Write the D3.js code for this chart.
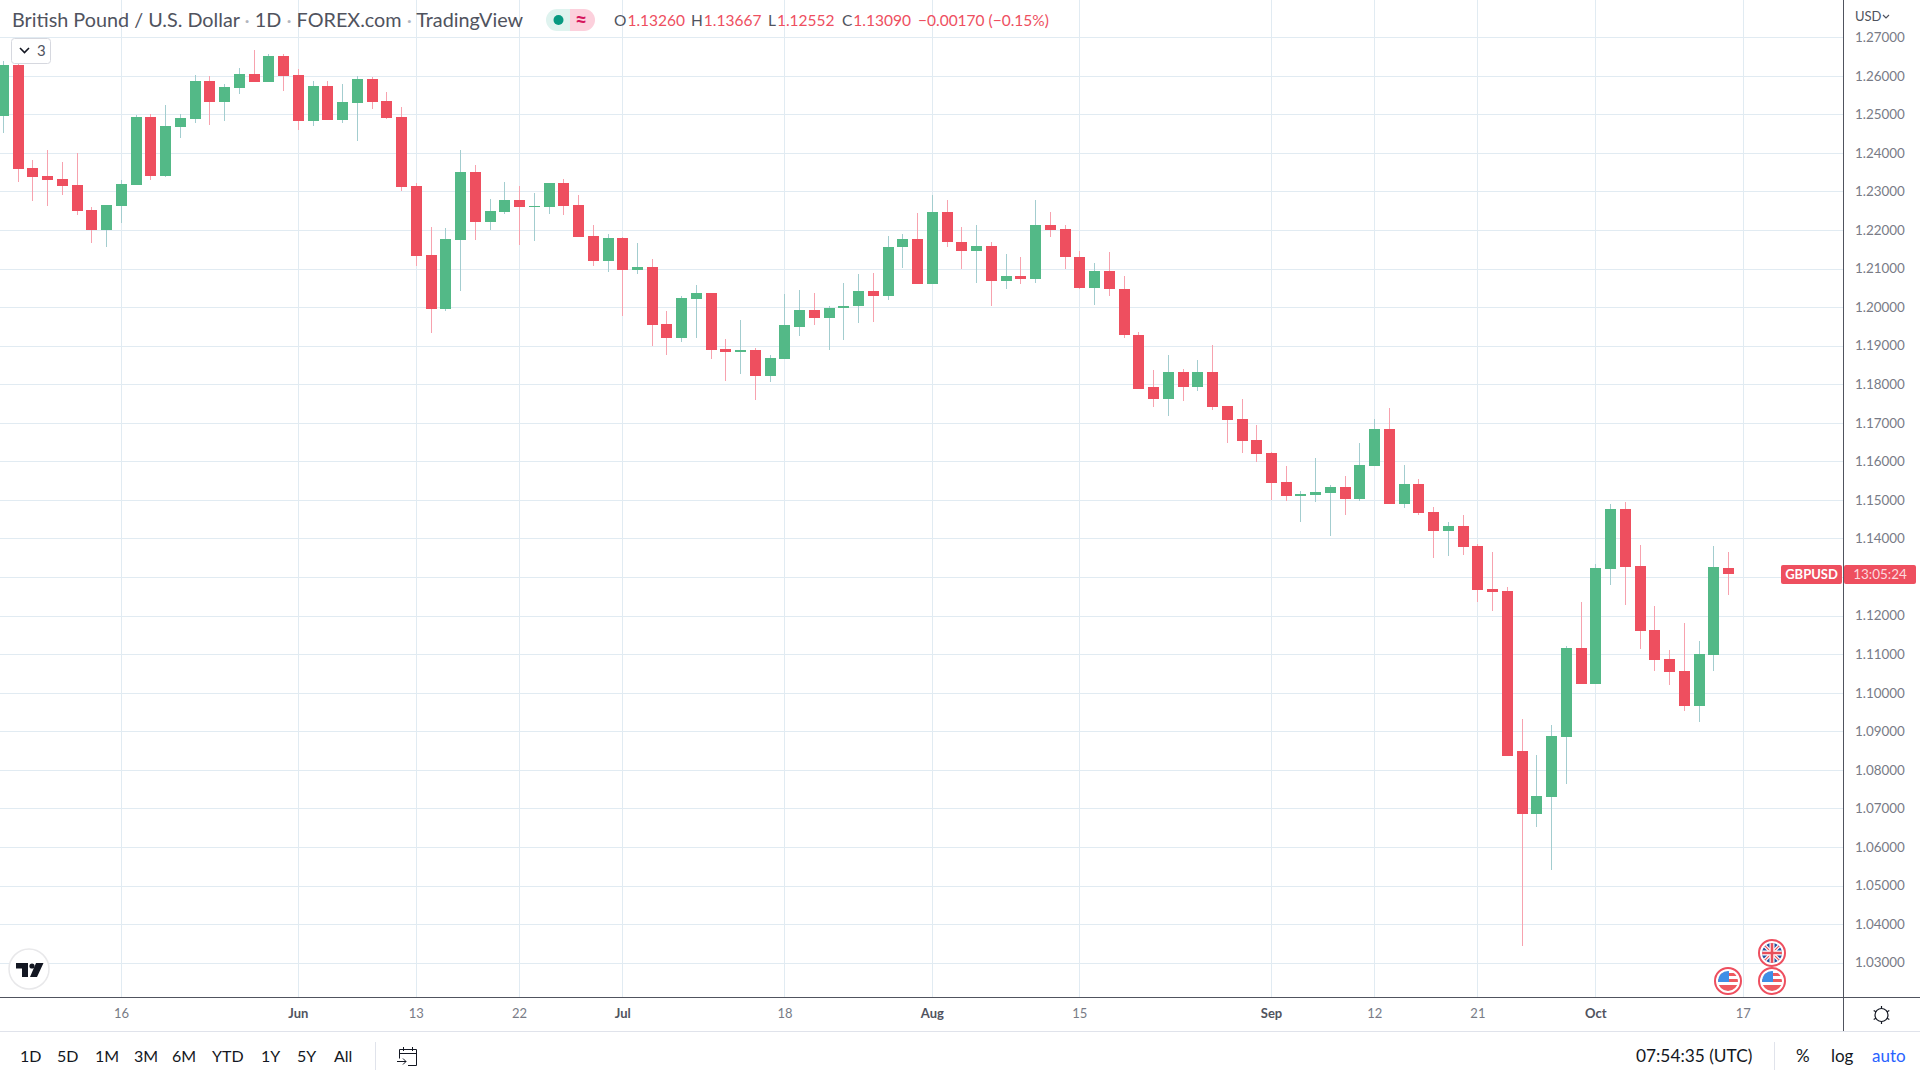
<!DOCTYPE html>
<html>
<head>
<meta charset="utf-8">
<script src="https://cdn.jsdelivr.net/npm/d3@7"></script>
<style>
  html, body { margin: 0; padding: 0; background: #fff; overflow: hidden; }
  svg { display: block; }
  text { font-family: Lato, sans-serif; }
</style>
</head>
<body>
<div id="chart"></div>
<script>
const opens = [
  1.2496,1.2628,1.2361,1.2341,1.2333,1.2317,1.2252,1.2201,1.2263,1.2317,
  1.2494,1.2341,1.2468,1.2488,1.2589,1.2532,1.2569,1.2605,1.2584,1.2652,
  1.2602,1.2483,1.2576,1.2486,1.2530,1.2592,1.2535,1.2494,1.2315,1.2136,
  1.1997,1.2175,1.2352,1.2222,1.2248,1.2279,1.2261,1.2261,1.2323,1.2266,
  1.2186,1.2121,1.2181,1.2098,1.2105,1.1958,1.1921,1.2022,1.2038,1.1893,
  1.1885,1.1890,1.1823,1.1867,1.1951,1.1995,1.1974,1.1998,1.2003,1.2044,
  1.2029,1.2156,1.2179,1.2060,1.2249,1.2171,1.2148,1.2161,1.2070,1.2083,
  1.2073,1.2215,1.2205,1.2132,1.2052,1.2096,1.2049,1.1930,1.1793,1.1764,
  1.1834,1.1795,1.1832,1.1744,1.1711,1.1656,1.1622,1.1547,1.1511,1.1514,
  1.1519,1.1534,1.1503,1.1589,1.1685,1.1490,1.1542,1.1470,1.1420,1.1433,
  1.1382,1.1270,1.1265,1.0850,1.0687,1.0731,1.0887,1.1117,1.1024,1.1322,
  1.1478,1.1330,1.1164,1.1089,1.1058,1.0967,1.1099,1.1326
];
const highs = [
  1.2639,1.2634,1.2382,1.2408,1.2377,1.2400,1.2260,1.2265,1.2330,1.2499,
  1.2501,1.2525,1.2501,1.2602,1.2600,1.2579,1.2621,1.2667,1.2659,1.2657,
  1.2618,1.2587,1.2589,1.2579,1.2600,1.2597,1.2558,1.2519,1.2323,1.2209,
  1.2206,1.2409,1.2370,1.2282,1.2326,1.2315,1.2297,1.2323,1.2333,1.2292,
  1.2214,1.2191,1.2183,1.2168,1.2126,1.1991,1.2030,1.2059,1.2038,1.1919,
  1.1968,1.1895,1.1877,1.2035,1.2046,1.2039,1.2005,1.2065,1.2086,1.2091,
  1.2187,1.2192,1.2246,1.2293,1.2280,1.2208,1.2215,1.2169,1.2138,1.2130,
  1.2278,1.2249,1.2215,1.2148,1.2117,1.2143,1.2081,1.1938,1.1837,1.1878,
  1.1840,1.1865,1.1902,1.1744,1.1762,1.1695,1.1625,1.1589,1.1524,1.1610,
  1.1540,1.1563,1.1648,1.1711,1.1739,1.1591,1.1555,1.1482,1.1444,1.1462,
  1.1387,1.1366,1.1275,1.0933,1.0840,1.0918,1.1122,1.1237,1.1335,1.1490,
  1.1496,1.1384,1.1226,1.1112,1.1182,1.1135,1.1382,1.13667
];
const lows = [
  1.2452,1.2325,1.2276,1.2263,1.2291,1.2240,1.2167,1.2157,1.2219,1.2317,
  1.2330,1.2338,1.2439,1.2478,1.2473,1.2483,1.2553,1.2584,1.2584,1.2561,
  1.2460,1.2470,1.2486,1.2478,1.2431,1.2514,1.2488,1.2302,1.2108,1.1934,
  1.1991,1.2043,1.2175,1.2201,1.2243,1.2162,1.2173,1.2243,1.2240,1.2183,
  1.2108,1.2092,1.1978,1.2087,1.1901,1.1877,1.1911,1.1921,1.1867,1.1810,
  1.1828,1.1761,1.1807,1.1867,1.1927,1.1954,1.1891,1.1917,1.1961,1.1964,
  1.2021,1.2104,1.2060,1.2060,1.2158,1.2101,1.2065,1.2003,1.2047,1.2062,
  1.2065,1.2182,1.2101,1.2049,1.2008,1.2029,1.1922,1.1790,1.1741,1.1718,
  1.1757,1.1785,1.1734,1.1648,1.1622,1.1599,1.1501,1.1498,1.1444,1.1495,
  1.1407,1.1462,1.1498,1.1589,1.1490,1.1480,1.1462,1.1350,1.1356,1.1358,
  1.1237,1.1213,1.0837,1.0345,1.0653,1.0542,1.0765,1.1024,1.1024,1.1281,
  1.1229,1.1115,1.1058,1.1021,1.0954,1.0925,1.1058,1.12552
];
const closes = [
  1.2628,1.2359,1.2338,1.2330,1.2315,1.2250,1.2201,1.2265,1.2320,1.2494,
  1.2341,1.2470,1.2491,1.2589,1.2532,1.2571,1.2605,1.2584,1.2652,1.2600,
  1.2483,1.2576,1.2486,1.2532,1.2592,1.2532,1.2491,1.2313,1.2134,1.1997,
  1.2178,1.2352,1.2222,1.2251,1.2279,1.2261,1.2263,1.2323,1.2263,1.2183,
  1.2121,1.2181,1.2098,1.2105,1.1955,1.1921,1.2025,1.2038,1.1890,1.1885,
  1.1890,1.1823,1.1870,1.1955,1.1995,1.1974,1.2000,1.2005,1.2044,1.2029,
  1.2158,1.2179,1.2060,1.2249,1.2169,1.2148,1.2161,1.2070,1.2083,1.2073,
  1.2215,1.2202,1.2130,1.2052,1.2096,1.2047,1.1928,1.1790,1.1764,1.1834,
  1.1795,1.1832,1.1742,1.1708,1.1654,1.1620,1.1545,1.1511,1.1516,1.1521,
  1.1534,1.1503,1.1591,1.1685,1.1490,1.1542,1.1467,1.1420,1.1433,1.1379,
  1.1268,1.1262,1.0837,1.0687,1.0734,1.0889,1.1117,1.1024,1.1325,1.1478,
  1.1327,1.1161,1.1086,1.1055,1.0967,1.1102,1.1327,1.1309
];

const priceTicks = [1.27,1.26,1.25,1.24,1.23,1.22,1.21,1.20,1.19,1.18,1.17,1.16,1.15,1.14,1.13,1.12,1.11,1.10,1.09,1.08,1.07,1.06,1.05,1.04,1.03];
const dateTicks = [8,20,28,35,42,53,63,73,86,93,100,108,118];
const dateLabels = ['16','Jun','13','22','Jul','18','Aug','15','Sep','12','21','Oct','17'];
const monthLabels = ['Jun','Jul','Aug','Sep','Oct'];
const rangeButtons = ['1D','5D','1M','3M','6M','YTD','1Y','5Y','All'];
const rangeStarts = [20,57,95,134,172,212,261,297,334];
const titleParts = ['British Pound / U.S. Dollar', '1D', 'FOREX.com', 'TradingView'];
const ohlcLabels = ['O','H','L','C'];
const ohlcValues = ['1.13260','1.13667','1.12552','1.13090'];

const width = 1920, height = 1080;
const paneRight = 1843, paneBottom = 997, footTop = 1031;
const upBody = '#53b987', downBody = '#ee4f5f';
const upWick = '#a3cdcf', downWick = '#f7a2ae';
const gridColor = '#e1ebf2', axisColor = '#50535e', mutedText = '#787b86', darkText = '#131722';

const svg = d3.select('#chart').append('svg').attr('width', width).attr('height', height);

const x = d3.scaleLinear().domain([0, 118]).range([3, 1742.8]);
const y = d3.scaleLinear().domain([1.27, 1.03]).range([37.7, 963.14]);
const col = i => Math.round(x(i));
const row = p => Math.round(y(p));

// grid
const grid = svg.append('g').attr('shape-rendering', 'crispEdges');
grid.selectAll('.h').data(priceTicks).enter().append('line')
  .attr('x1', 0).attr('x2', paneRight)
  .attr('y1', d => Math.floor(y(d)) + 0.5).attr('y2', d => Math.floor(y(d)) + 0.5)
  .attr('stroke', gridColor);
grid.selectAll('.v').data(dateTicks).enter().append('line')
  .attr('x1', d => col(d) + 0.5).attr('x2', d => col(d) + 0.5)
  .attr('y1', 0).attr('y2', paneBottom)
  .attr('stroke', gridColor);

// candles
const candles = svg.append('g').attr('shape-rendering', 'crispEdges');
const idx = d3.range(opens.length);
const isUp = i => closes[i] >= opens[i];
candles.selectAll('.wick').data(idx).enter().append('line')
  .attr('x1', i => col(i) + 0.5).attr('x2', i => col(i) + 0.5)
  .attr('y1', i => row(highs[i])).attr('y2', i => row(lows[i]))
  .attr('stroke', i => isUp(i) ? upWick : downWick);
candles.selectAll('.body').data(idx).enter().append('rect')
  .attr('x', i => col(i) - 5)
  .attr('y', i => row(Math.max(opens[i], closes[i])))
  .attr('width', 11)
  .attr('height', i => Math.max(1, row(Math.min(opens[i], closes[i])) - row(Math.max(opens[i], closes[i]))))
  .attr('fill', i => isUp(i) ? upBody : downBody);

// price axis
const yAxis = d3.axisRight(y).tickValues(priceTicks).tickFormat(d3.format('.5f')).tickSize(0).tickPadding(12);
const yG = svg.append('g').attr('transform', `translate(${paneRight},-0.5)`).call(yAxis);
yG.select('.domain').remove();
yG.selectAll('text').attr('fill', mutedText).style('font-size', '13.4px');

// time axis
const xAxis = d3.axisBottom(x).tickValues(dateTicks).tickFormat((d, i) => dateLabels[i]).tickSize(0).tickPadding(12);
const xG = svg.append('g').attr('transform', `translate(0,${paneBottom})`).call(xAxis);
xG.select('.domain').remove();
xG.selectAll('text')
  .attr('fill', (d, i) => monthLabels.includes(dateLabels[i]) ? '#50535e' : mutedText)
  .style('font-weight', (d, i) => monthLabels.includes(dateLabels[i]) ? 700 : 400)
  .style('font-size', '13px');

// frame
const frame = svg.append('g').attr('shape-rendering', 'crispEdges');
frame.append('line').attr('x1', 0).attr('x2', width).attr('y1', paneBottom + 0.5).attr('y2', paneBottom + 0.5).attr('stroke', axisColor);
frame.append('line').attr('x1', paneRight + 0.5).attr('x2', paneRight + 0.5).attr('y1', 0).attr('y2', footTop).attr('stroke', axisColor);
frame.append('line').attr('x1', 0).attr('x2', width).attr('y1', footTop + 0.5).attr('y2', footTop + 0.5).attr('stroke', '#e0e3eb');
frame.append('line').attr('x1', 375.5).attr('x2', 375.5).attr('y1', 1042).attr('y2', 1070).attr('stroke', '#e0e3eb');
frame.append('line').attr('x1', 1774.5).attr('x2', 1774.5).attr('y1', 1042).attr('y2', 1070).attr('stroke', '#e0e3eb');

// header
const title = svg.append('text').attr('x', 12).attr('y', 27).attr('fill', '#50535e').style('font-size', '19.8px');
titleParts.forEach((p, i) => {
  if (i > 0) title.append('tspan').attr('fill', '#b2b5be').text(' · ');
  title.append('tspan').text(p);
});

svg.append('path').attr('d', 'M557,9 H570 V31 H557 A11,11 0 0 1 557,9 Z').attr('fill', '#dff3ef');
svg.append('path').attr('d', 'M570,9 H584 A11,11 0 0 1 584,31 H570 Z').attr('fill', '#fcd0dc');
svg.append('circle').attr('cx', 558.5).attr('cy', 20).attr('r', 5).attr('fill', '#089981');
svg.append('text').attr('x', 581).attr('y', 27).attr('text-anchor', 'middle').attr('fill', '#d6165e').style('font-size', '21px').style('font-weight', 700).text('≈');

const ohlcX = [614, 691, 768, 842];
const legend = svg.append('g').style('font-size', '15.5px');
ohlcLabels.forEach((l, i) => {
  const t = legend.append('text').attr('x', ohlcX[i]).attr('y', 26);
  t.append('tspan').attr('fill', '#50535e').text(l);
  t.append('tspan').attr('fill', downBody).attr('dx', 1).text(ohlcValues[i]);
});
legend.append('text').attr('x', 918).attr('y', 26).attr('fill', downBody).text('−0.00170 (−0.15%)');

// collapse button
svg.append('rect').attr('x', 11.5).attr('y', 38.5).attr('width', 39).attr('height', 25).attr('rx', 3).attr('fill', '#fff').attr('stroke', '#d6d8df');
svg.append('path').attr('d', 'M20,48 l4.5,4.5 l4.5,-4.5').attr('fill', 'none').attr('stroke', darkText).attr('stroke-width', 1.6);
svg.append('text').attr('x', 37).attr('y', 56).attr('fill', '#50535e').style('font-size', '15px').text('3');

// currency
svg.append('text').attr('x', 1855).attr('y', 21).attr('fill', '#50535e').style('font-size', '13px').text('USD');
svg.append('path').attr('d', 'M1883,15 l3,3 l3,-3').attr('fill', 'none').attr('stroke', '#50535e').attr('stroke-width', 1.2);

// last price tags
const tagY = 565;
svg.append('rect').attr('x', 1781).attr('y', tagY).attr('width', 61).attr('height', 19).attr('rx', 2).attr('fill', downBody);
svg.append('rect').attr('x', 1844).attr('y', tagY).attr('width', 72).attr('height', 19).attr('rx', 2).attr('fill', downBody);
svg.append('text').attr('x', 1811.5).attr('y', tagY + 14).attr('text-anchor', 'middle').attr('fill', '#fff').style('font-size', '13px').style('font-weight', 700).text('GBPUSD');
svg.append('text').attr('x', 1880).attr('y', tagY + 14).attr('text-anchor', 'middle').attr('fill', '#fcd9de').style('font-size', '13.5px').text('13:05:24');

// logo
svg.append('circle').attr('cx', 29).attr('cy', 969).attr('r', 20).attr('fill', '#fff').attr('stroke', '#e8e8ea').attr('stroke-width', 1.5);
svg.append('path').attr('d', 'M16,963 H28 V977 H22 V968.5 H16 Z M36,963 H43.5 L37,977 H30 Z').attr('fill', darkText);
svg.append('circle').attr('cx', 32).attr('cy', 966).attr('r', 2.6).attr('fill', darkText);

// event flags
const defs = svg.append('defs');
defs.append('clipPath').attr('id', 'flagClip').append('circle').attr('r', 10);
function ring(cx, cy) {
  const g = svg.append('g').attr('transform', `translate(${cx},${cy})`);
  g.append('circle').attr('r', 13).attr('fill', '#fff').attr('stroke', '#ee4f5f').attr('stroke-width', 2);
  return g.append('g').attr('clip-path', 'url(#flagClip)');
}
function usFlag(cx, cy) {
  const f = ring(cx, cy);
  f.append('rect').attr('x', -10).attr('y', -10).attr('width', 20).attr('height', 20).attr('fill', '#fff');
  [-8, -2, 4].forEach(s => f.append('rect').attr('x', -10).attr('y', s).attr('width', 20).attr('height', 3).attr('fill', '#ee5a5f'));
  f.append('rect').attr('x', -10).attr('y', 7).attr('width', 20).attr('height', 3).attr('fill', '#ee5a5f');
  f.append('rect').attr('x', -10).attr('y', -10).attr('width', 11).attr('height', 11).attr('fill', '#3f8fe6');
}
function ukFlag(cx, cy) {
  const f = ring(cx, cy);
  f.append('rect').attr('x', -10).attr('y', -10).attr('width', 20).attr('height', 20).attr('fill', '#23509e');
  f.append('path').attr('d', 'M-10,-10 L10,10 M10,-10 L-10,10').attr('stroke', '#fff').attr('stroke-width', 3.5);
  f.append('path').attr('d', 'M-10,-10 L10,10 M10,-10 L-10,10').attr('stroke', '#e8505b').attr('stroke-width', 1.2);
  f.append('path').attr('d', 'M0,-10 V10 M-10,0 H10').attr('stroke', '#fff').attr('stroke-width', 5);
  f.append('path').attr('d', 'M0,-10 V10 M-10,0 H10').attr('stroke', '#e8505b').attr('stroke-width', 2.6);
}
usFlag(1728, 981);
usFlag(1772, 981);
ukFlag(1772, 953);

// settings gear
const gear = svg.append('g').attr('transform', 'translate(1881.5,1015)').attr('fill', 'none').attr('stroke', darkText).attr('stroke-width', 1.2);
gear.append('circle').attr('r', 6.5);
d3.range(0, 360, 60).forEach(a => gear.append('line').attr('x1', 6.5).attr('x2', 9).attr('transform', `rotate(${a + 30})`));

// footer
const foot = svg.append('g').attr('fill', darkText).style('font-size', '16px');
rangeButtons.forEach((b, i) => {
  foot.append('text').attr('x', rangeStarts[i]).attr('y', 1062).text(b);
});
foot.append('text').attr('x', 1636).attr('y', 1062).style('font-size', '17.3px').text('07:54:35 (UTC)');
foot.append('text').attr('x', 1796).attr('y', 1062).style('font-size', '17px').text('%');
foot.append('text').attr('x', 1831).attr('y', 1062).style('font-size', '17px').text('log');
foot.append('text').attr('x', 1872).attr('y', 1062).attr('fill', '#2962ff').style('font-size', '17px').text('auto');

const cal = svg.append('g').attr('fill', 'none').attr('stroke', darkText).attr('stroke-width', 1);
cal.append('path').attr('d', 'M399.5,1058.5 V1049.5 H416.5 V1065.5 H408 M399.5,1053.5 H416.5 M403.5,1047 V1051 M412.5,1047 V1051');
cal.append('path').attr('d', 'M397,1061.5 H406 M403,1058.5 L406,1061.5 L403,1064.5');
</script>
</body>
</html>
